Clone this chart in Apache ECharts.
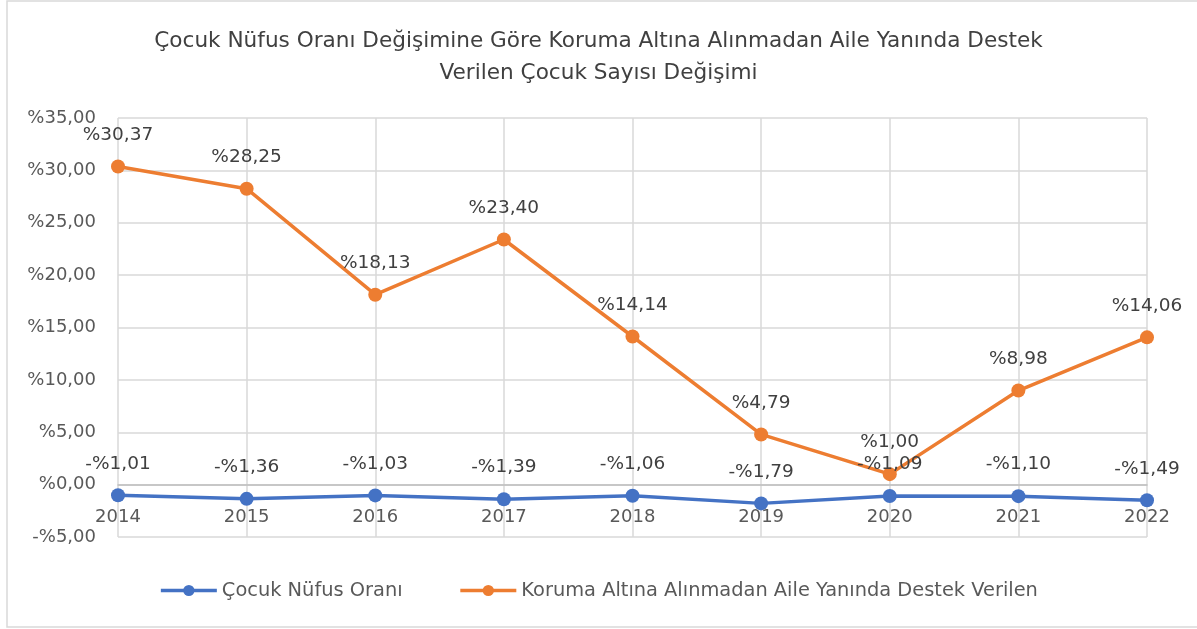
<!DOCTYPE html>
<html>
<head>
<meta charset="utf-8">
<script src="https://cdn.jsdelivr.net/npm/echarts@6/dist/echarts.min.js"></script>
<style>
html,body{margin:0;padding:0;background:#fff;}
#c{width:1197px;height:629px;}
</style>
</head>
<body>
<div id="c"></div>
<script>
const titleLines = ["Çocuk Nüfus Oranı Değişimine Göre Koruma Altına Alınmadan Aile Yanında Destek", "Verilen Çocuk Sayısı Değişimi"];
const categories = ["2014","2015","2016","2017","2018","2019","2020","2021","2022"];
const seriesNames = ["Çocuk Nüfus Oranı", "Koruma Altına Alınmadan Aile Yanında Destek Verilen"];
const cocukNufus = [-1.01, -1.36, -1.03, -1.39, -1.06, -1.79, -1.09, -1.10, -1.49];
const destek = [30.37, 28.25, 18.13, 23.40, 14.14, 4.79, 1.00, 8.98, 14.06];
const yMin = -5, yMax = 35, yStep = 5;

const FONT = 'DejaVu Sans';
const W = 1197, H = 629;
const gridTop = 118, gridBottom = 92;
const plotH = H - gridTop - gridBottom;
// distance from plot bottom to the zero line, so the category labels sit just under y = 0
const zeroLift = plotH * (0 - yMin) / (yMax - yMin);

function fmt(v){
  const s = Math.abs(v).toFixed(2).replace('.', ',');
  return (v < 0 ? '-%' : '%') + s;
}

const chart = echarts.init(document.getElementById('c'), null, {renderer:'canvas'});
const option = {
  backgroundColor: '#fff',
  animation: false,
  textStyle: {fontFamily: FONT},
  title: {
    text: titleLines.join('\n'),
    left: 'center',
    top: 20,
    textStyle: {fontFamily: FONT, fontSize: 21.6, fontWeight: 'normal', color: '#404040', lineHeight: 32}
  },
  graphic: [{
    type: 'rect', shape: {x: 7, y: 1, width: 1200, height: 626},
    style: {fill: 'none', stroke: '#d9d9d9', lineWidth: 1.5}, silent: true, z: -1
  }],
  legend: {
    bottom: 24, left: 'center',
    itemWidth: 56, itemHeight: 14, itemGap: 56,
    lineStyle: {width: 3.5},
    textStyle: {fontFamily: FONT, fontSize: 19.4, color: '#595959'},
    data: seriesNames
  },
  grid: {left: 118, right: 50, top: gridTop, bottom: gridBottom, containLabel: false},
  xAxis: {
    type: 'category', data: categories, boundaryGap: false,
    axisLine: {onZero: true, lineStyle: {color: '#bfbfbf', width: 1.5}},
    axisTick: {show: false},
    axisLabel: {margin: 24 - zeroLift, fontFamily: FONT, fontSize: 18, color: '#595959'},
    splitLine: {show: true, lineStyle: {color: '#d9d9d9', width: 1.5}}
  },
  yAxis: {
    type: 'value', min: yMin, max: yMax, interval: yStep,
    axisLine: {show: false}, axisTick: {show: false},
    axisLabel: {margin: 22, fontFamily: FONT, fontSize: 18, color: '#595959', formatter: fmt},
    splitLine: {lineStyle: {color: '#d9d9d9', width: 1.5}}
  },
  series: [
    {
      name: seriesNames[0], type: 'line', data: cocukNufus,
      symbol: 'circle', symbolSize: 14,
      lineStyle: {color: '#4472C4', width: 3.5},
      itemStyle: {color: '#4472C4'},
      label: {show: true, position: 'top', distance: 15, formatter: p => fmt(p.value), fontFamily: FONT, fontSize: 18.5, color: '#404040'},
      z: 3
    },
    {
      name: seriesNames[1], type: 'line', data: destek,
      symbol: 'circle', symbolSize: 14,
      lineStyle: {color: '#ED7D31', width: 3.5},
      itemStyle: {color: '#ED7D31'},
      label: {show: true, position: 'top', distance: 15, formatter: p => fmt(p.value), fontFamily: FONT, fontSize: 18.5, color: '#404040'},
      z: 2
    }
  ]
};
chart.setOption(option);
</script>
</body>
</html>
